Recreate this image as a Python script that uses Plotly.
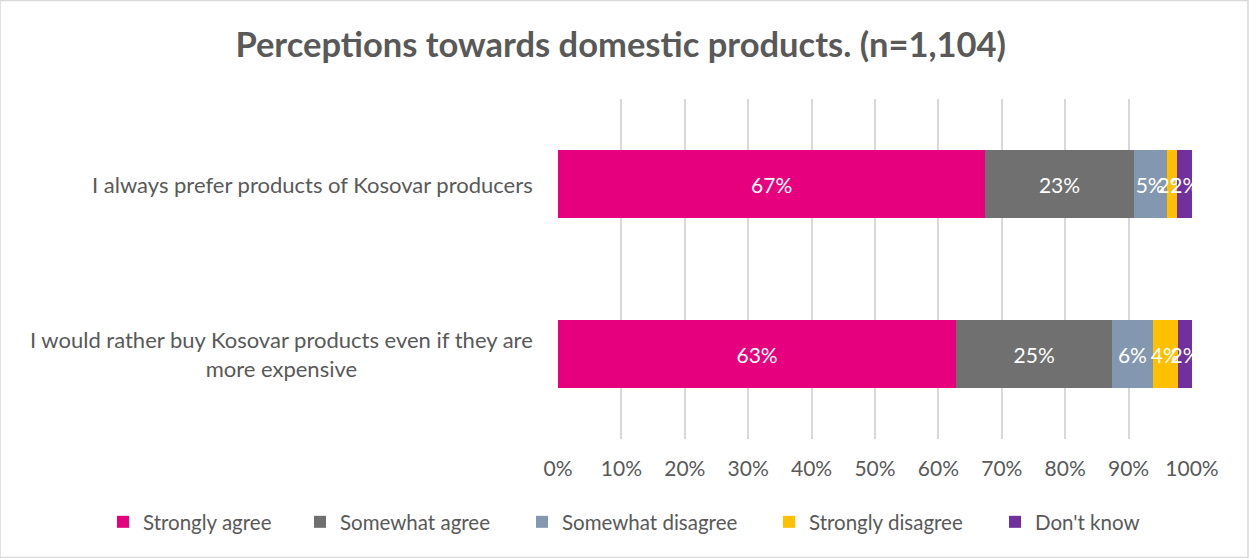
import plotly.graph_objects as go

# Survey statements (top to bottom) and response shares in percent
statements = [
    "I always prefer products of Kosovar producers",
    "I would rather buy Kosovar products even if they are<br>more expensive",
]
responses = ["Strongly agree", "Somewhat agree", "Somewhat disagree", "Strongly disagree", "Don't know"]
strongly_agree = [67.4, 62.8]
somewhat_agree = [23.4, 24.6]
somewhat_disagree = [5.2, 6.4]
strongly_disagree = [1.7, 4.0]
dont_know = [2.3, 2.2]
x_ticks = [0, 10, 20, 30, 40, 50, 60, 70, 80, 90, 100]

series = [strongly_agree, somewhat_agree, somewhat_disagree, strongly_disagree, dont_know]
colors = ["#E6007E", "#707070", "#8497B0", "#FFC000", "#7030A0"]

FONT = "Lato"
GREY = "#595959"
cat_ids = ["s1", "s2"]

# Plot-area geometry in pixels
W, H = 1249, 558
L, R, T, B = 558, 57, 99, 119
PW, PH = W - L - R, H - T - B

# Left edge (px) of each legend entry along the bottom row
legend_left_px = [103, 300, 522, 769, 995]
legend_y = -(522 - (H - B)) / PH

fig = go.Figure()
legend_layouts = {}
for i, (name, vals, col) in enumerate(zip(responses, series, colors)):
    key = "legend" if i == 0 else f"legend{i + 1}"
    fig.add_trace(go.Bar(
        y=cat_ids, x=vals, name=name, orientation="h",
        marker=dict(color=col, line=dict(width=0)),
        texttemplate="%{x:.0f}%", textposition="inside", textangle=0,
        insidetextanchor="middle",
        textfont=dict(color="white", size=21, family=FONT),
        legend=key,
    ))
    legend_layouts[key] = dict(
        orientation="h", x=(legend_left_px[i] - L) / PW, xanchor="left",
        y=legend_y, yanchor="middle", bgcolor="rgba(0,0,0,0)",
        font=dict(size=20.5, color=GREY, family=FONT), itemwidth=30,
    )

# Statement labels, centred per line and right-aligned to the axis
for cid, txt in zip(cat_ids, statements):
    fig.add_annotation(
        x=-23 / PW, xref="paper", y=cid, yref="y", text=txt,
        xanchor="right", yanchor="middle", align="center", showarrow=False,
        font=dict(size=22, color=GREY, family=FONT),
    )

fig.update_layout(
    barmode="stack", bargap=0.6,
    width=W, height=H,
    margin=dict(l=L, r=R, t=T, b=B),
    paper_bgcolor="white", plot_bgcolor="white",
    title=dict(text="<b>Perceptions towards domestic products. (n=1,104)</b>",
               x=0.497, xanchor="center", y=0.92, yanchor="middle",
               font=dict(size=34.5, color=GREY, family=FONT)),
    uniformtext=dict(minsize=21, mode="show"),
    showlegend=True,
    **legend_layouts,
)
fig.update_xaxes(range=[0, 100], tickvals=x_ticks, ticktext=[f"{t}%" for t in x_ticks],
                 showgrid=True, gridcolor="#D9D9D9", gridwidth=2, zeroline=False,
                 tickfont=dict(size=21, color=GREY, family=FONT), ticks="",
                 ticklabelstandoff=15, fixedrange=True)
fig.update_yaxes(categoryorder="array", categoryarray=cat_ids, autorange="reversed",
                 showticklabels=False, showgrid=False, zeroline=False, fixedrange=True)

# Thin outer frame around the whole chart
fig.add_shape(type="rect", xref="paper", yref="paper",
              x0=-L / PW, x1=(W - 1 - L) / PW, y0=-(B - 0.5) / PH, y1=(H - B - 0.5) / PH,
              line=dict(color="#D9D9D9", width=1.5), fillcolor="rgba(0,0,0,0)", layer="below")

fig.write_html("out.html")
